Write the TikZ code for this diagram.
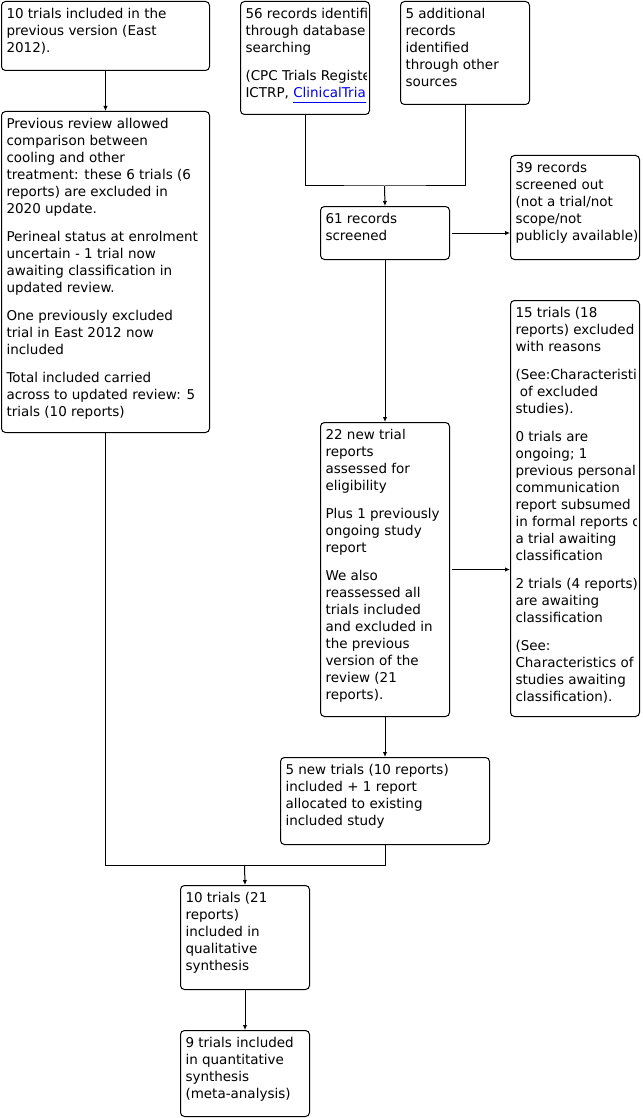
\documentclass[tikz,border=0pt]{standalone}
\usepackage{fontspec}
\setmainfont{DejaVu Sans}
\usetikzlibrary{arrows.meta}
\definecolor{linkblue}{RGB}{0,0,238}
\newcommand\bxfont{\fontsize{13.5}{17}\selectfont}
\newcommand\pbreak{\\[11pt]}
\tikzset{
  box/.style={draw, line width=1pt, rounded corners=4pt, anchor=north west, inner sep=0pt},
  txt/.style={path picture={
    \clip ([xshift=1pt]path picture bounding box.south west) rectangle ([xshift=-3.5pt]path picture bounding box.north east);
    \node[anchor=north west, inner sep=0pt, outer sep=0pt, draw=none, fill=none,
          minimum width=0pt, minimum height=0pt, align=left, font=\bxfont]
      at ([xshift=5pt,yshift=-5.4pt]path picture bounding box.north west) {\strut #1};}},
  conn/.style={draw, line width=1pt},
  arr/.style={conn, -{Latex[length=5pt,width=4.5pt]}}
}
\begin{document}
\begin{tikzpicture}[x=1pt,y=-1pt]
\useasboundingbox (0,0) rectangle (642,1118);

\node[box, minimum width=208pt, minimum height=69pt,
  txt={10 trials included in the\\previous version (East\\2012).}] (A) at (1,1) {};

\node[box, minimum width=129pt, minimum height=113pt,
  txt={56 records identified\\through database\\searching\pbreak (CPC Trials Register,\\ICTRP, \textcolor{linkblue}{\underline{ClinicalTrials.gov}})}] (B) at (240,1) {};

\node[box, minimum width=129pt, minimum height=103pt,
  txt={5 additional\\records\\identified\\through other\\sources}] (C) at (400,1) {};

\node[box, minimum width=129pt, minimum height=53pt,
  txt={61 records\\screened}] (D) at (320,206) {};

\node[box, minimum width=129pt, minimum height=104pt,
  txt={39 records\\screened out\\(not a trial/not\\scope/not\\publicly available)}] (E) at (510,155) {};

\node[box, minimum width=208pt, minimum height=321pt,
  txt={Previous review allowed\\comparison between\\cooling and other\\treatment: these 6 trials (6\\reports) are excluded in\\2020 update.\pbreak Perineal status at enrolment\\uncertain - 1 trial now\\awaiting classification in\\updated review.\pbreak One previously excluded\\trial in East 2012 now\\included\pbreak Total included carried\\across to updated review: 5\\trials (10 reports)}] (F) at (1,111) {};

\node[box, minimum width=129pt, minimum height=294pt,
  txt={22 new trial\\reports\\assessed for\\eligibility\pbreak Plus 1 previously\\ongoing study\\report\pbreak We also\\reassessed all\\trials included\\and excluded in\\the previous\\version of the\\review (21\\reports).}] (G) at (320,422) {};

\node[box, minimum width=129pt, minimum height=416pt,
  txt={15 trials (18\\reports) excluded\\with reasons\pbreak (See:Characteristics\\\ of excluded\\studies).\pbreak 0 trials are\\ongoing; 1\\previous personal\\communication\\report subsumed\\in formal reports of\\a trial awaiting\\classification\pbreak 2 trials (4 reports)\\are awaiting\\classification\pbreak (See:\\Characteristics of\\studies awaiting\\classification).}] (H) at (510,300) {};

\node[box, minimum width=209pt, minimum height=87pt,
  txt={5 new trials (10 reports)\\included + 1 report\\allocated to existing\\included study}] (I) at (280,757) {};

\node[box, minimum width=129pt, minimum height=104pt,
  txt={10 trials (21\\reports)\\included in\\qualitative\\synthesis}] (J) at (180,885) {};

\node[box, minimum width=129pt, minimum height=86pt,
  txt={9 trials included\\in quantitative\\synthesis\\(meta-analysis)}] (K) at (180,1030) {};

\coordinate (m1) at (384.5,186);
\coordinate (m2) at (244.5,865);

\draw[arr] (A.south) -- (F.north);
\draw[conn] (B.south) |- (m1) -| (C.south);
\draw[arr] (m1) -- (D.north);
\draw[arr, shorten <=2pt] (D.east) -- (D.east -| E.west);
\draw[arr] (D.south) -- (G.north);
\draw[arr, shorten <=2pt] (G.east) -- (G.east -| H.west);
\draw[arr] (G.south) -- (I.north);
\draw[conn] (F.south) |- (m2);
\draw[conn] (I.south) |- (m2);
\draw[arr] (m2) -- (J.north);
\draw[arr] (J.south) -- (K.north);
\end{tikzpicture}
\end{document}
